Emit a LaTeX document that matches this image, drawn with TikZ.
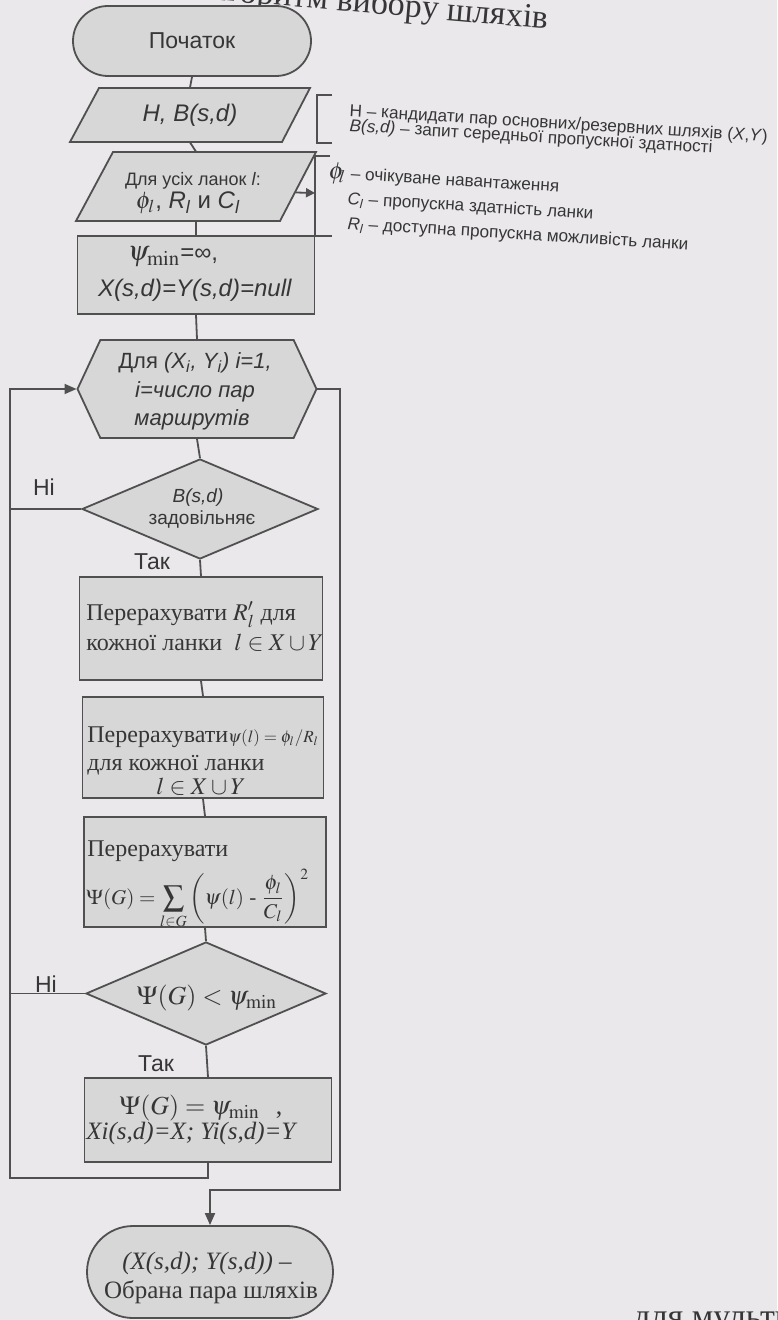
\documentclass[tikz,border=0pt]{standalone}
\usepackage{mathptmx}
\usepackage{fontspec}
\setmainfont{Liberation Serif}
\setsansfont{Liberation Sans}
\usetikzlibrary{shapes.geometric,shapes.misc,shapes.symbols,arrows.meta}
\definecolor{paper}{HTML}{EAE8EB}
\definecolor{boxfill}{HTML}{D7D7D7}
\definecolor{ink}{HTML}{505050}
\definecolor{txt}{HTML}{363636}
\newcommand{\isub}[1]{\textsubscript{\itshape #1}}
\tikzset{
  shp/.style={draw=ink, fill=boxfill, line width=0.9pt, inner sep=0pt},
  term/.style={shp, rounded rectangle},
  proc/.style={shp, rectangle},
  hexa/.style={shp, signal, signal to=west and east, signal pointer angle=130},
  decision/.style={shp, diamond},
  anchorbox/.style={draw=none, fill=none, rectangle, inner sep=0pt},
  conn/.style={draw=ink, line width=0.9pt},
  arr/.style={conn, -{Triangle[length=6pt,width=5pt]}},
  sans/.style={text=txt, inner sep=0pt, font=\sffamily\fontsize{#1}{#1}\selectfont},
  serif/.style={text=txt, inner sep=0pt, font=\rmfamily\fontsize{#1}{#1}\selectfont},
  legtxt/.style={text=txt, inner sep=0pt, anchor=base west, rotate=-3.5, font=\sffamily\fontsize{8.6}{8.6}\selectfont},
}
\begin{document}
\begin{tikzpicture}[x=0.5pt,y=-0.5pt]
\fill[paper] (0,0) rectangle (777,1320);
\useasboundingbox (0,0) rectangle (777,1320);
\clip (0,0) rectangle (777,1320);

% page text fragments
\node[serif=17, anchor=base east, rotate=-5] (title) at (548,29) {Алгоритм вибору шляхів};
\node[serif=17, anchor=base west] (tail) at (633,1327) {для мульти};

% parallelogram outlines
\path[shp] (99,88) -- (310,88) -- (282,142) -- (70,142) -- cycle;
\path[shp] (113,152) -- (316,152) -- (280,221) -- (76,221) -- cycle;

% shapes
\node[term, minimum width=119pt, minimum height=35pt, sans=11.5] (start) at (192,41) {Початок};
\node[anchorbox, minimum width=106pt, minimum height=27pt, sans=12] (in1) at (190,115) {\itshape H, B(s,d)};
\node[anchorbox, minimum width=102pt, minimum height=34.5pt] (in2) at (196,186.5) {};
\node[proc, minimum width=118.5pt, minimum height=39pt] (init) at (196,275) {};
\node[hexa, minimum width=119.5pt, minimum height=49pt] (loop) at (197,389) {};
\node[decision, minimum width=118pt, minimum height=50pt] (cond1) at (200,509) {};
\node[proc, minimum width=121.5pt, minimum height=51.5pt] (calc1) at (201,628.5) {};
\node[proc, minimum width=120.5pt, minimum height=50.5pt] (calc2) at (203,747.5) {};
\node[proc, minimum width=121pt, minimum height=55pt] (calc3) at (205,872) {};
\node[decision, minimum width=120pt, minimum height=51.5pt] (cond2) at (206,993.5) {};
\node[proc, minimum width=123.5pt, minimum height=42pt] (upd) at (208,1120) {};
\node[term, minimum width=123pt, minimum height=46pt] (end) at (210,1272) {};

% connectors
\draw[conn] (start.south) -- (in1.north);
\draw[conn] (in1.south) -- (in2.north);
\draw[conn] (in2.south) -- (init.north);
\draw[conn] (init.south) -- (loop.north);
\draw[conn] (loop.south) -- (cond1.north);
\draw[conn] (cond1.south) -- (calc1.north);
\draw[conn] (calc1.south) -- (calc2.north);
\draw[conn] (calc2.south) -- (calc3.north);
\draw[conn] (calc3.south) -- (cond2.north);
\draw[conn] (cond2.south) -- (upd.north);
\coordinate (lb) at (10,1178);
\coordinate (rb) at (340,1190);
\draw[arr] (upd.south) |- (lb) |- (loop.west);
\draw[conn] (cond1.west) -- (cond1.west -| lb);
\draw[conn] (cond2.west) -- (cond2.west -| lb);
\draw[arr] (loop.east) -| (rb) -| (end.north);

% legend brackets
\draw[conn, line width=0.8pt] (332,95) -- (317,95) -- (317,143) -- (332,143);
\draw[conn, line width=0.8pt] (330,156) -- (315,156) -- (315,236) -- (332,236);
\coordinate (br2) at (315,193);
\draw[conn, -{Triangle[length=4.5pt,width=4.5pt]}] (in2.east) ++(-3,6) -- (br2);

% texts
\node[sans=9] (in2a) at (193,181) {Для усіх ланок \textit{l}:};
\node[sans=12] (in2b) at (188,203) {$\phi_l$, \textit{R}\isub{l} и \textit{C}\isub{l}};
\node[sans=12] (initA) at (173,257) {{\fontsize{14}{14}\selectfont$\psi_{\min}$}=∞,};
\node[sans=12] (initB) at (195,290) {\textit{X(s,d)=Y(s,d)=null}};
\node[sans=11] (loopA) at (195,363) {Для \textit{(X\isub{i}, Y\isub{i}) i=1,}};
\node[sans=11] (loopB) at (195,392) {\textit{i=число пар}};
\node[sans=11] (loopC) at (192,420) {\textit{маршрутів}};
\node[sans=9.5] (c1A) at (198,498) {\textit{B(s,d)}};
\node[sans=9.5] (c1B) at (202,520) {задовільняє};
\node[sans=11.5] (no1) at (44,487) {Ні};
\node[sans=11.5] (yes1) at (152,562) {Так};
\node[sans=11.5] (no2) at (46,984) {Ні};
\node[sans=11.5] (yes2) at (156,1064) {Так};
\node[serif=12, anchor=west] (k1A) at (86,615) {Перерахувати $R'_l$ для};
\node[serif=12, anchor=west] (k1B) at (86,643) {кожної ланки\enspace $l\in X\cup Y$};
\node[serif=12, anchor=west] (k2A) at (87,737) {Перерахувати{\fontsize{8.5}{8.5}\selectfont$\psi(l)=\phi_l/R_l$}};
\node[serif=12, anchor=west] (k2B) at (87,765) {для кожної ланки};
\node[serif=12] (k2C) at (201,787) {$l\in X\cup Y$};
\node[serif=12, anchor=west] (k3A) at (87,851) {Перерахувати};
\node[serif=10.5, anchor=west] (k3B) at (86,899) {$\displaystyle\Psi(G)=\sum_{l\in G}\left(\psi(l)\mbox{ - }\frac{\phi_l}{C_l}\right)^{2}$};
\node[serif=13] (c2t) at (207,998) {$\Psi(G)<\psi_{\min}$};
\node[serif=13] (uA) at (201,1108) {$\Psi(G)=\psi_{\min}$\hspace{8pt},};
\node[serif=12.5] (uB) at (192,1133) {\textit{Xi(s,d)=X; Yi(s,d)=Y}};
\node[serif=12.5] (eA) at (207,1263) {\textit{(X(s,d); Y(s,d))} –};
\node[serif=12.5] (eB) at (211,1292) {Обрана пара шляхів};

% legend texts
\node[legtxt] (L1) at (349,116) {Н – кандидати пар основних/резервних шляхів (\textit{X},\textit{Y})};
\node[legtxt] (L2) at (349,131) {\textit{B(s,d)} – запит середньої пропускної здатності};
\node[legtxt] (L3) at (328,178) {{\fontsize{12}{12}\selectfont$\phi_{\!l}$} – очікуване навантаження};
\node[legtxt] (L4) at (347,204) {\textit{C}\isub{l} – пропускна здатність ланки};
\node[legtxt] (L5) at (347,229) {\textit{R}\isub{l} – доступна пропускна можливість ланки};
\end{tikzpicture}
\end{document}
